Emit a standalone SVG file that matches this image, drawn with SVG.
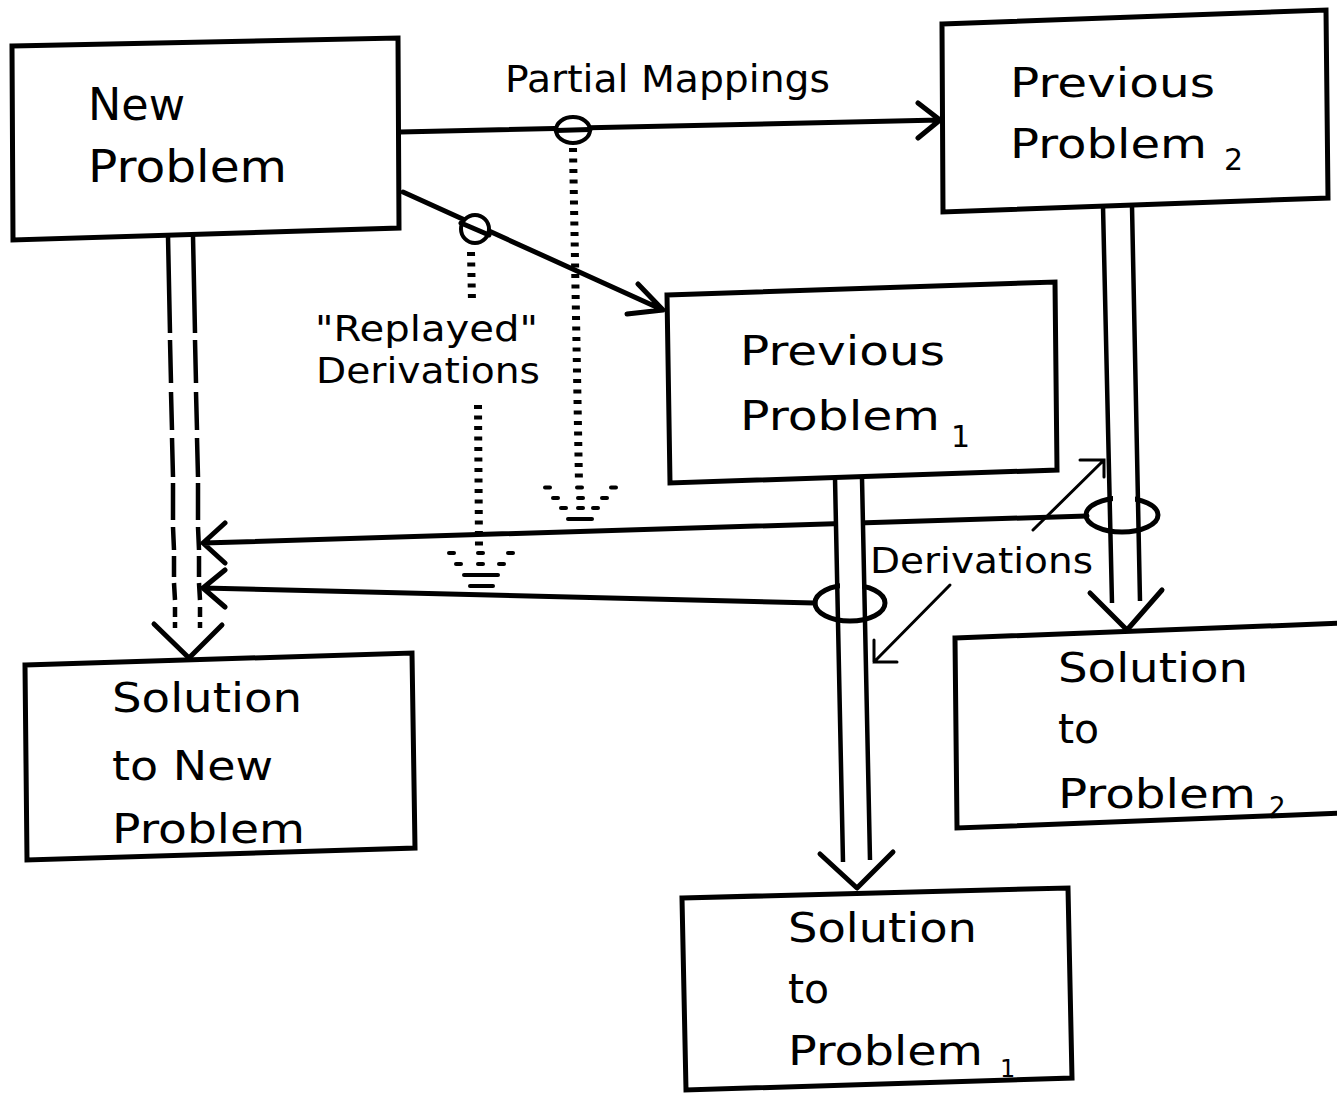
<svg xmlns="http://www.w3.org/2000/svg" width="1337" height="1093" viewBox="0 0 1337 1093">
  <style>
    .box { fill: #fff; stroke: #000; stroke-width: 5; stroke-linejoin: miter; }
    .lbl { font-family: "DejaVu Sans", "Liberation Sans", sans-serif; fill: #000; }
    .big { font-size: 41px; }
    .mid { font-size: 35px; }
    .sub { font-size: 30px; }
    .ln { fill: none; stroke: #000; stroke-width: 5; stroke-linecap: round; stroke-linejoin: round; }
    .ring { fill: #fff; stroke: #000; stroke-width: 4; }
    .shaft { fill: none; stroke: #000; stroke-width: 4.5; }
    .thin { fill: none; stroke: #000; stroke-width: 3; stroke-linecap: round; }
    .dots { fill: none; stroke: #000; stroke-width: 8; stroke-dasharray: 4 6.5; }
    .gnd rect { fill: #000; }
    .wfill { fill: #fff; stroke: none; }
  </style>
  <rect width="1337" height="1093" fill="#fff"/>

  <g id="connectors">
    <!-- mapping arrows from the new problem -->
    <path class="ln" d="M400,132 L940,120 M918,103 L940,120 L918,138"/>
    <path class="ln" d="M403,192 L663,310 M638,284 L663,310 L627,314" stroke-width="5.5"/>
    <ellipse class="ring" cx="573" cy="130" rx="17" ry="13"/>
    <path class="ln" d="M556,130.4 L590,129.6"/>
    <circle class="ring" cx="475" cy="229" r="14"/>
    <path class="ln" d="M461,223 L489,235"/>

    <!-- dotted drops to ground -->
    <path class="dots" d="M573,148 L579,484"/>
    <path class="dots" d="M471,252 L472,302"/>
    <path class="dots" d="M478,405 L479,548"/>
    <g class="gnd">
      <rect x="543" y="485.5" width="9" height="4" rx="2"/>
      <rect x="575" y="485.5" width="9" height="4" rx="2"/>
      <rect x="609" y="485.5" width="9" height="4" rx="2"/>
      <rect x="551" y="496" width="9" height="4" rx="2"/>
      <rect x="576" y="496" width="9" height="4" rx="2"/>
      <rect x="600" y="496" width="9" height="4" rx="2"/>
      <rect x="559" y="506" width="9" height="4" rx="2"/>
      <rect x="576" y="506" width="9" height="4" rx="2"/>
      <rect x="591" y="506" width="9" height="4" rx="2"/>
      <rect x="566" y="517" width="28" height="4" rx="2"/>

      <rect x="447" y="551" width="9" height="4" rx="2"/>
      <rect x="476" y="551" width="9" height="4" rx="2"/>
      <rect x="506" y="551" width="9" height="4" rx="2"/>
      <rect x="454" y="562" width="9" height="4" rx="2"/>
      <rect x="476" y="562" width="9" height="4" rx="2"/>
      <rect x="497" y="562" width="9" height="4" rx="2"/>
      <rect x="462" y="573" width="38" height="4" rx="2"/>
      <rect x="468" y="584" width="27" height="4" rx="2"/>
    </g>

    <!-- replayed derivation arrows into the new solution -->
    <path class="ln" d="M1087,516 L203,543 M225,523 L203,543 L225,563" stroke-width="4.5"/>
    <path class="ln" d="M815,603 L203,588 M225,570 L203,588 L225,607" stroke-width="4.5"/>

    <!-- derivation of the new problem (double dashed shaft) -->
    <path class="shaft" stroke-width="5" d="M168,236 L170,333 M170,340 L171,383 M171,392 L172,430 M172,438 L173,477 M173,483 L173,520 M173,527 L174,550 M174,556 L174,577 M174,583 L175,600 M175,607 L175,617 M175,622 L175,628"/>
    <path class="shaft" stroke-width="5" d="M193,236 L195,333 M195,340 L196,383 M196,392 L197,430 M197,438 L198,477 M198,483 L198,520 M198,527 L199,550 M199,556 L199,577 M199,583 L200,600 M200,607 L200,617 M200,622 L200,628"/>
    <path class="ln" d="M154,624 L189,658 L222,625"/>

    <!-- derivation of previous problem 1 -->
    <polygon class="wfill" points="835,478 862,478 870,860 843,860"/>
    <ellipse class="ln" cx="850" cy="603" rx="35" ry="18" fill="none" stroke-width="4.5"/>
    <rect class="wfill" x="840" y="580" width="22" height="35"/>
    <path class="shaft" d="M835,478 L843,862 M862,478 L870,860"/>
    <path class="ln" d="M820,854 L857,888 L893,852"/>

    <!-- derivation of previous problem 2 -->
    <polygon class="wfill" points="1103,206 1132,206 1140,602 1112,602"/>
    <ellipse class="ln" cx="1122" cy="515" rx="36" ry="17" fill="none" stroke-width="4.5"/>
    <rect class="wfill" x="1113" y="494" width="22" height="32"/>
    <path class="shaft" d="M1103,206 L1112,603 M1132,206 L1140,601"/>
    <path class="ln" d="M1090,593 L1127,630 L1162,590"/>

    <!-- pointers from the Derivations label -->
    <path class="thin" d="M1033,530 L1104,460 M1080,460 L1104,460 L1104,477"/>
    <path class="thin" d="M950,585 L874,662 M874,640 L874,662 L897,662"/>
  </g>

  <g id="new-problem">
    <polygon class="box" points="12,46 398,38 399,228 13,240"/>
    <text class="lbl" x="88" y="120" font-size="45" textLength="97" lengthAdjust="spacingAndGlyphs">New</text>
    <text class="lbl" x="88" y="182" font-size="45" textLength="199" lengthAdjust="spacingAndGlyphs">Problem</text>
  </g>

  <g id="previous-problem-2">
    <polygon class="box" points="942,24 1326,10 1328,198 943,212"/>
    <text class="lbl big" x="1010" y="97" textLength="205" lengthAdjust="spacingAndGlyphs">Previous</text>
    <text class="lbl big" x="1010" y="158" textLength="197" lengthAdjust="spacingAndGlyphs">Problem</text>
    <text class="lbl sub" x="1224" y="170">2</text>
  </g>

  <g id="previous-problem-1">
    <polygon class="box" points="667,295 1055,282 1057,470 670,483"/>
    <text class="lbl big" x="740" y="365" textLength="205" lengthAdjust="spacingAndGlyphs">Previous</text>
    <text class="lbl big" x="740" y="430" textLength="200" lengthAdjust="spacingAndGlyphs">Problem</text>
    <text class="lbl sub" x="951" y="447">1</text>
  </g>

  <g id="solution-new">
    <polygon class="box" points="25,665 412,653 415,848 27,860"/>
    <text class="lbl big" x="112" y="712" textLength="190" lengthAdjust="spacingAndGlyphs">Solution</text>
    <text class="lbl big" x="112" y="780" textLength="161" lengthAdjust="spacingAndGlyphs">to New</text>
    <text class="lbl big" x="112" y="843" textLength="193" lengthAdjust="spacingAndGlyphs">Problem</text>
  </g>

  <g id="solution-1">
    <polygon class="box" points="682,898 1068,888 1072,1078 686,1090"/>
    <text class="lbl big" x="788" y="942" textLength="189" lengthAdjust="spacingAndGlyphs">Solution</text>
    <text class="lbl big" x="788" y="1003">to</text>
    <text class="lbl big" x="788" y="1065" textLength="195" lengthAdjust="spacingAndGlyphs">Problem</text>
    <text class="lbl" x="1000" y="1077" font-size="24">1</text>
  </g>

  <g id="solution-2">
    <polygon class="box" points="955,638 1345,623 1345,813 957,828"/>
    <text class="lbl big" x="1058" y="682" textLength="190" lengthAdjust="spacingAndGlyphs">Solution</text>
    <text class="lbl big" x="1058" y="743">to</text>
    <text class="lbl big" x="1058" y="808" textLength="198" lengthAdjust="spacingAndGlyphs">Problem</text>
    <text class="lbl" x="1269" y="816" font-size="26">2</text>
  </g>

  <g id="labels">
    <text class="lbl" x="505" y="92" font-size="37" textLength="325" lengthAdjust="spacingAndGlyphs">Partial Mappings</text>
    <text class="lbl mid" x="315" y="341" textLength="223" lengthAdjust="spacingAndGlyphs">"Replayed"</text>
    <text class="lbl mid" x="316" y="383" textLength="224" lengthAdjust="spacingAndGlyphs">Derivations</text>
    <text class="lbl mid" x="870" y="573" textLength="223" lengthAdjust="spacingAndGlyphs">Derivations</text>
  </g>
</svg>
